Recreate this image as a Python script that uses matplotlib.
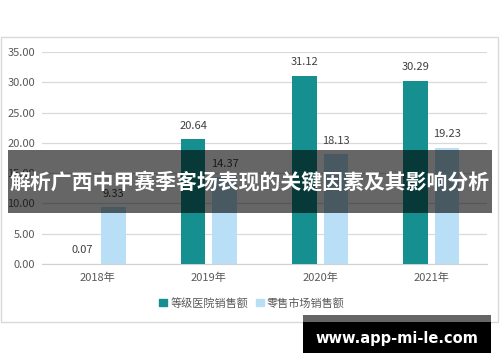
import matplotlib
matplotlib.use("Agg")
import matplotlib.pyplot as plt
from matplotlib.patches import Rectangle, Patch
import numpy as np

plt.rcParams['font.family'] = ['Noto Sans CJK SC', 'DejaVu Sans']

categories = ['2018年', '2019年', '2020年', '2021年']
hospital = [0.07, 20.64, 31.12, 30.29]
retail = [9.33, 14.37, 18.13, 19.23]
series_names = ['等级医院销售额', '零售市场销售额']
yticks = [0, 5, 10, 15, 20, 25, 30, 35]
title = '解析广西中甲赛季客场表现的关键因素及其影响分析'
watermark = 'www.app-mi-le.com'

teal = '#168f90'
light = '#b8dff5'

W, H = 500, 362
fig = plt.figure(figsize=(W/100, H/100), dpi=100)
fig.patch.set_facecolor('white')

def fx(x): return x / W
def fy(y): return 1 - y / H

# outer chart border
fig.patches.append(Rectangle((fx(1), fy(322)), fx(498) - fx(1), fy(37) - fy(322),
                             transform=fig.transFigure, fill=False, edgecolor='#d9d9d9', lw=1.0))

ax = fig.add_axes([fx(42), fy(264), fx(487) - fx(42), fy(52) - fy(264)])
x = np.arange(len(categories))
bw = 0.22
off = 0.142
b1 = ax.bar(x - off, hospital, bw, color=teal, label=series_names[0], zorder=3)
b2 = ax.bar(x + off, retail, bw, color=light, label=series_names[1], zorder=3)
ax.set_xlim(-0.5, 3.5)
ax.set_ylim(0, 35)
ax.set_yticks(yticks)
ax.set_yticklabels([f'{v:.2f}' for v in yticks])
ax.set_xticks(x)
ax.set_xticklabels(categories)
ax.grid(axis='y', color='#d9d9d9', lw=0.9, zorder=0)
for s in ['top', 'right', 'left']:
    ax.spines[s].set_visible(False)
ax.spines['bottom'].set_color('#d0d0d0')
ax.tick_params(axis='both', length=0, colors='#595959', labelsize=8)
ax.tick_params(axis='y', pad=5)
ax.tick_params(axis='x', pad=6)
for bars, vals in ((b1, hospital), (b2, retail)):
    for r, v in zip(bars, vals):
        ax.annotate(f'{v:.2f}', (r.get_x() + r.get_width()/2, v), xytext=(0, 6),
                    textcoords='offset points', ha='center', va='bottom',
                    fontsize=8, color='#404040')

handles = [Patch(color=teal), Patch(color=light)]
fig.legend(handles, series_names, loc='center', bbox_to_anchor=(fx(252), fy(303)),
           ncol=2, frameon=False, fontsize=8, handlelength=0.7, handleheight=0.7,
           handletextpad=0.3, columnspacing=0.7, labelcolor='#595959')

# title banner
fig.patches.append(Rectangle((fx(8), fy(213)), fx(492) - fx(8), fy(150) - fy(213),
                             transform=fig.transFigure, facecolor='black', alpha=0.6,
                             edgecolor='none', zorder=10))
fig.text(fx(250), fy(182), title, ha='center', va='center', color='white',
         fontsize=15, fontweight='bold', zorder=11)

# watermark
fig.patches.append(Rectangle((fx(303), fy(322)), fx(491) - fx(303), fy(315) - fy(322),
                             transform=fig.transFigure, facecolor='#666666', edgecolor='none', zorder=10))
fig.patches.append(Rectangle((fx(303), fy(353)), fx(491) - fx(303), fy(322) - fy(353),
                             transform=fig.transFigure, facecolor='black', edgecolor='none', zorder=10))
fig.text(fx(397), fy(338), watermark, ha='center', va='center', color='white',
         fontsize=10.5, fontweight='bold', family='DejaVu Sans', zorder=11)

fig.savefig('out.png', dpi=100)
